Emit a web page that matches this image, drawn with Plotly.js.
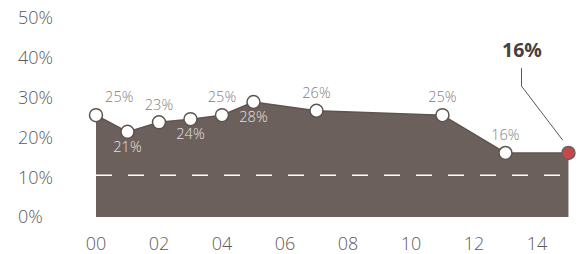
<!DOCTYPE html>
<html><head><meta charset="utf-8">
<script src="https://cdn.plot.ly/plotly-3.0.1.min.js"></script>
<style>html,body{margin:0;padding:0;background:#fff}</style>
</head><body><div id="chart" style="width:581px;height:254px"></div>
<script>
// Data
const years  = [0, 1, 2, 3, 4, 5, 7, 11, 13, 15];
const values = [25.6, 21.4, 23.8, 24.6, 25.6, 28.9, 26.7, 25.6, 16.1, 16.1];
const labels = ['25%', '21%', '23%', '24%', '25%', '28%', '26%', '25%', '16%', ''];
const labelPos = ['top right', 'bottom center', 'top center', 'bottom center', 'top center',
                  'bottom center', 'top center', 'top center', 'top center', 'top center'];
const labelCol = ['#858080', '#e6e2e0', '#858080', '#e6e2e0', '#858080',
                  '#e6e2e0', '#858080', '#858080', '#858080', '#858080'];
const refLevel = 10.5;
const xTickVals = [0, 2, 4, 6, 8, 10, 12, 14];
const xTickText = ['00', '02', '04', '06', '08', '10', '12', '14'];
const yTickVals = [0, 10, 20, 30, 40, 50];
const yTickText = ['0%', '10%', '20%', '30%', '40%', '50%'];
const lastLabel = '16%';

const n = years.length;
const lastX = years[n - 1], lastY = values[n - 1];

const L = 10, R = 5, plotLeft = 65;
const paperW = 581 - L - R;

const traces = [
  { x: years, y: values, type: 'scatter', mode: 'lines', fill: 'tozeroy',
    fillcolor: '#6b605b', line: { color: '#5e5450', width: 1.5 }, hoverinfo: 'skip' },
  { x: [years[0], lastX], y: [refLevel, refLevel], type: 'scatter', mode: 'lines',
    line: { color: '#ffffff', width: 1.6, dash: '16px,16px' }, hoverinfo: 'skip' },
  { x: years.slice(0, n - 1), y: values.slice(0, n - 1), type: 'scatter', mode: 'markers+text',
    text: labels.slice(0, n - 1), textposition: labelPos.slice(0, n - 1),
    textfont: { family: 'Open Sans, sans-serif', size: 14.5, weight: 300, color: labelCol.slice(0, n - 1) },
    marker: { size: 13, color: '#ffffff', line: { color: '#5e5450', width: 1.5 } }, cliponaxis: false },
  { x: [lastX], y: [lastY], type: 'scatter', mode: 'markers',
    marker: { size: 13, color: '#c8474b', line: { color: '#6b605b', width: 1.5 } }, cliponaxis: false }
];

const layout = {
  width: 581, height: 254,
  margin: { l: L, r: R, t: 5, b: 23 },
  paper_bgcolor: '#ffffff', plot_bgcolor: '#ffffff',
  showlegend: false,
  font: { family: 'Open Sans, sans-serif', color: '#5f5a58' },
  xaxis: { domain: [(plotLeft - L) / paperW, 1], range: [-0.984, 15.24],
    tickvals: xTickVals, ticktext: xTickText,
    showgrid: false, zeroline: false, showline: false, ticks: '', ticklabelstandoff: 0,
    tickfont: { size: 18, color: '#5f5a58', weight: 300 }, fixedrange: true },
  yaxis: { anchor: 'free', position: (14 - L) / paperW, ticklabelposition: 'inside',
    range: [-3.5, 53.27], tickvals: yTickVals, ticktext: yTickText,
    showgrid: false, zeroline: false, showline: false, ticks: '',
    tickfont: { size: 18, color: '#5f5a58', weight: 300 }, fixedrange: true },
  shapes: [
    { type: 'path', xref: 'x', yref: 'y',
      path: 'M ' + (lastX - 1.49) + ' ' + (lastY + 21.3) + ' L ' + (lastX - 1.49) + ' ' + (lastY + 16.8) +
            ' L ' + (lastX - 0.18) + ' ' + (lastY + 3.2),
      line: { color: '#5e5450', width: 1 } }
  ],
  annotations: [
    { x: lastX - 1.49, y: lastY + 21.3, xref: 'x', yref: 'y', text: '<b>' + lastLabel + '</b>',
      showarrow: false, yanchor: 'bottom', yshift: 3,
      font: { family: 'Open Sans, sans-serif', size: 19.5, color: '#4a3f3b' } }
  ]
};

Plotly.newPlot('chart', traces, layout, { displayModeBar: false, staticPlot: true });
</script></body></html>
